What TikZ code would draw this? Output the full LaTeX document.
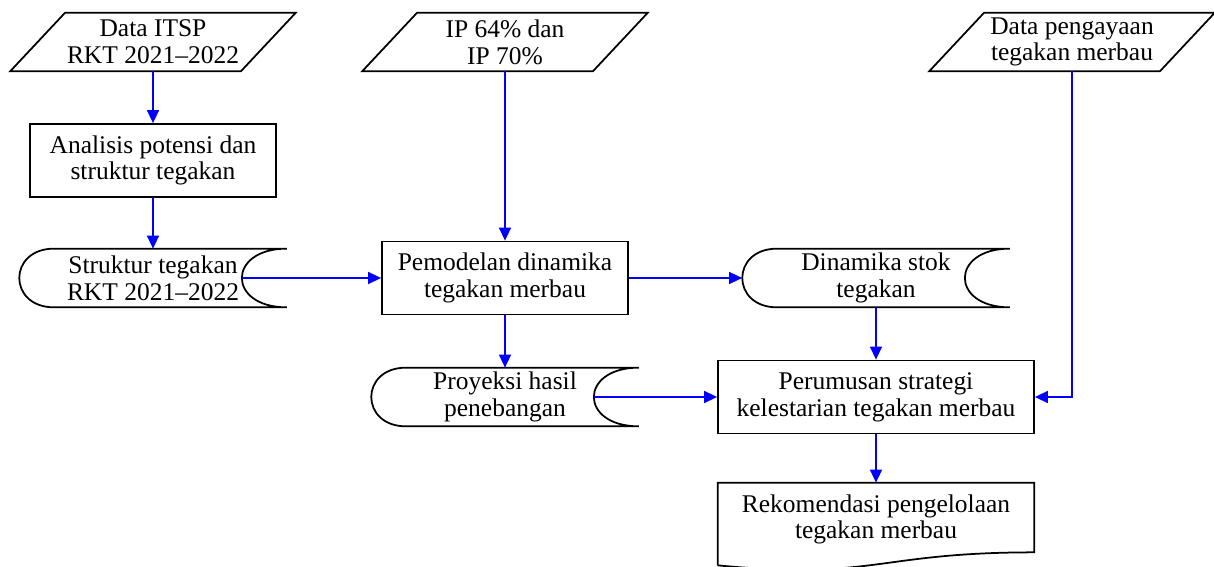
\documentclass[tikz,border=0pt]{standalone}
\usepackage{fontspec}
\setmainfont{Liberation Serif}
\usetikzlibrary{arrows.meta}
\tikzset{>={Triangle[length=7.4pt,width=6.8pt]}}

\begin{document}
\begin{tikzpicture}[x=0.2mm, y=-0.2mm,
    box/.style={inner sep=0pt, align=center, font=\fontsize{14.5pt}{15.2pt}\selectfont},
    proc/.style={box, draw, line width=1pt, minimum width=#1, minimum height=14.6mm},
    io/.style={box, minimum width=57mm, minimum height=11.6mm},
    store/.style={box, minimum width=53.4mm, minimum height=11.6mm},
    outline/.style={line width=1pt},
    conn/.style={->, blue, line width=0.9pt}]
    \useasboundingbox (0,0) rectangle (1214,567);
    \clip (0,0) rectangle (1214,567);
    \node[io] (itsp) at (153,42) {Data ITSP\\RKT 2021--2022};
    \node[io] (ip) at (505,42) {IP 64\% dan\\IP 70\%};
    \node[io] (kaya) at (1072,42) {Data pengayaan\\tegakan merbau};
    \node[proc=49.2mm] (analisis) at (153,160.5) {Analisis potensi dan\\struktur tegakan};
    \node[store] (struktur) at (153,278) {Struktur tegakan\\RKT 2021--2022};
    \node[proc=49.2mm] (model) at (505,278) {Pemodelan dinamika\\tegakan merbau};
    \node[store] (stok) at (876,278) {Dinamika stok\\tegakan};
    \node[store] (proyeksi) at (505,397) {Proyeksi hasil\\penebangan};
    \node[proc=63.2mm] (strategi) at (876,397) {Perumusan strategi\\kelestarian tegakan merbau};
    \node[box, minimum width=63.2mm, minimum height=14.6mm] (rekom) at (876,519.5) {Rekomendasi pengelolaan\\tegakan merbau};
    \foreach \n in {itsp,ip,kaya}
    \draw[outline] ([xshift=11mm]\n.north west) -- (\n.north east) -- ([xshift=-11mm]\n.south east) -- (\n.south west) -- cycle;
    \foreach \n in {struktur,stok,proyeksi} {
    \draw[outline] ([xshift=7mm]\n.north west) -- (\n.north east)
        .. controls ([xshift=-12mm]\n.north east) and ([xshift=-12mm]\n.south east) .. (\n.south east)
        -- ([xshift=7mm]\n.south west)
        .. controls ([xshift=-2.3mm]\n.south west) and ([xshift=-2.3mm]\n.north west) .. ([xshift=7mm]\n.north west);
    \coordinate (\n-c) at ([xshift=-9mm]\n.east);
    }
    \draw[outline] ([yshift=-1.8mm]rekom.south west) -- (rekom.north west) -- (rekom.north east) -- ([yshift=0.8mm]rekom.south east)
        .. controls ([yshift=0.8mm]rekom.south) and ([yshift=-4.8mm]rekom.south) .. ([yshift=-1.8mm]rekom.south west);
    \draw[conn] (itsp.south) -- (analisis.north);
    \draw[conn] (analisis.south) -- (struktur.north);
    \draw[conn] (ip.south) -- (model.north);
    \draw[conn] (struktur-c) -- (model.west);
    \draw[conn] (model.east) -- (stok.west);
    \draw[conn] (model.south) -- (proyeksi.north);
    \draw[conn] (stok.south) -- (strategi.north);
    \draw[conn] (proyeksi-c) -- (strategi.west);
    \draw[conn] (kaya.south) |- (strategi.east);
    \draw[conn] (strategi.south) -- (rekom.north);
\end{tikzpicture}
\end{document}
